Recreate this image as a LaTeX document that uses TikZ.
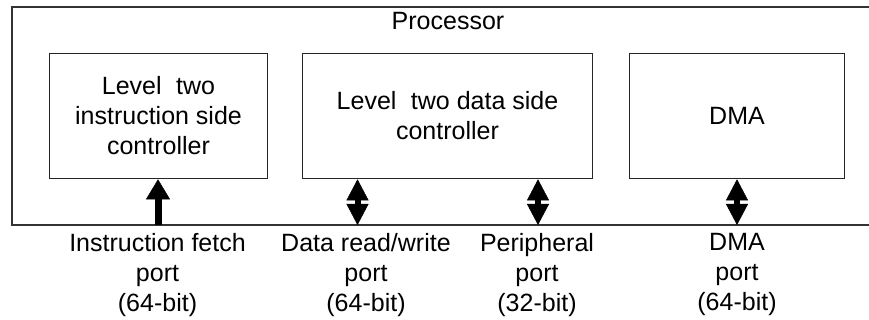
\documentclass[tikz,border=0pt]{standalone}
\usepackage{fontspec}
\setmainfont{Liberation Sans}
\usetikzlibrary{arrows.meta}
\begin{document}
\begin{tikzpicture}[x=1pt,y=-1pt,
  every node/.style={font=\fontsize{25}{30}\selectfont, align=center, inner sep=0pt},
  unit/.style={draw=black!85, line width=1.6pt, minimum height=125pt},
  frame/.style={draw=black!80, line width=2pt},
  portlabel/.style={anchor=north},
  fetch/.style={draw=black, line width=7pt,
    -{Triangle[width=24pt,length=20pt,line width=0.5pt]}},
  bidir/.style={draw=black, line width=6pt,
    {Triangle[width=22pt,length=21pt,line width=0.5pt]}-{Triangle[width=22pt,length=21pt,line width=0.5pt]}}]
  \useasboundingbox (0,0) rectangle (869,320);

  % processor outline, open to the right
  \draw[frame] (869,7) -| (12,225) -- (869,225);
  \node (proc) at (448,21) {Processor};

  % functional units
  \node[unit, minimum width=218pt] (isc) at (158.5,116) {Level\hspace{0.3em} two\\instruction side\\controller};
  \node[unit, minimum width=290pt] (dsc) at (447.5,116) {Level\hspace{0.3em} two data side\\controller};
  \node[unit, minimum width=215pt] (dma) at (737,116) {DMA};

  % ports on the processor boundary
  \coordinate (p1) at (158,225);
  \coordinate (p2) at (357.5,225);
  \coordinate (p3) at (538,225);
  \coordinate (p4) at (737,225);

  \draw[fetch] (p1) -- (p1 |- isc.south);
  \draw[bidir] (p2) -- (p2 |- dsc.south);
  \draw[bidir] (p3) -- (p3 |- dsc.south);
  \draw[bidir] (p4) -- (p4 |- dma.south);

  % port descriptions
  \node[portlabel] (l1) at (157.5,233) {Instruction fetch\\port\\(64-bit)};
  \node[portlabel] (l2) at (366,233) {Data read/write\\port\\(64-bit)};
  \node[portlabel] (l3) at (537,233) {Peripheral\\port\\(32-bit)};
  \node[portlabel] (l4) at (737,233) {DMA\\port\\(64-bit)};
\end{tikzpicture}
\end{document}
